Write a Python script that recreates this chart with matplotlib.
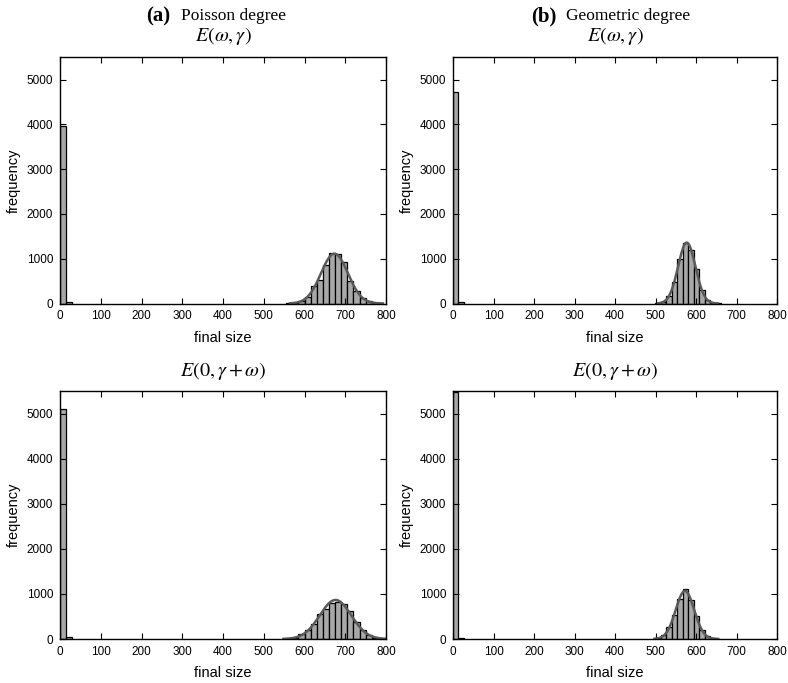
import numpy as np
import matplotlib
matplotlib.use('Agg')
import matplotlib.pyplot as plt

plt.rcParams['font.family'] = ['Liberation Sans', 'DejaVu Sans']
plt.rcParams['mathtext.fontset'] = 'stix'

# bin widths (final size units)
bin_a = 15.0   # Poisson degree
bin_b = 13.5   # Geometric degree

# counts of the first two bins (minor outbreaks)
a_top_low = [3970, 40]
a_bot_low = [5100, 50]
b_top_low = [4720, 30]
b_bot_low = [5480, 20]

# counts of the major outbreak hump, starting at the given bin edge
a_top_start = 555
a_top_peak = [8, 20, 60, 145, 385, 530, 870, 1125, 1095, 935, 505, 275, 120, 50, 15]
a_bot_start = 555
a_bot_peak = [10, 30, 100, 210, 330, 545, 660, 790, 830, 770, 610, 380, 200, 90, 30, 10]
b_top_start = 499.5
b_top_peak = [5, 40, 170, 490, 1000, 1350, 1190, 770, 300, 80, 15, 3]
b_bot_start = 499.5
b_bot_peak = [15, 80, 260, 533, 880, 1105, 870, 510, 200, 60, 12]

xticks = [0, 100, 200, 300, 400, 500, 600, 700, 800]
yticks = [0, 1000, 2000, 3000, 4000, 5000]

fig = plt.figure(figsize=(7.88, 6.83), dpi=100)

W, H = 788.0, 683.0
def axes_px(x0, y0, x1, y1):
    return fig.add_axes([x0 / W, 1 - y1 / H, (x1 - x0) / W, (y1 - y0) / H])

def panel(ax, width, low, start, peak):
    nb = int(round(800 / width)) + 1
    counts = np.zeros(nb)
    counts[0:len(low)] = low
    k0 = int(round(start / width))
    counts[k0:k0 + len(peak)] = peak
    edges = np.arange(nb) * width
    nz = counts > 0
    ax.bar(edges[nz], counts[nz], width=width, align='edge',
           color='#a8a8a8', edgecolor='black', linewidth=0.9)
    # normal curve fitted to the major outbreak hump
    centers = start + width * (np.arange(len(peak)) + 0.5)
    pk = np.array(peak, dtype=float)
    n = pk.sum()
    mu = (centers * pk).sum() / n
    sd = np.sqrt(((centers - mu) ** 2 * pk).sum() / n)
    xs = np.linspace(mu - 3.3 * sd, min(800, mu + 3.6 * sd), 300)
    ys = n * width / (sd * np.sqrt(2 * np.pi)) * np.exp(-0.5 * ((xs - mu) / sd) ** 2)
    ax.plot(xs, ys, color='#5a5a5a', linewidth=1.8)
    ax.set_xlim(0, 800)
    ax.set_ylim(0, 5500)
    ax.set_xticks(xticks)
    ax.set_yticks(yticks)
    ax.tick_params(direction='in', length=4, width=0.8, top=True, right=True,
                   labelsize=8.5, pad=5)
    for s in ax.spines.values():
        s.set_linewidth(1.0)
    ax.set_xlabel('final size', fontsize=10.5, labelpad=6)
    ax.set_ylabel('frequency', fontsize=10.5, labelpad=4)

ax1 = axes_px(60, 57.3, 386, 303.5)
ax2 = axes_px(453, 57.3, 777, 303.5)
ax3 = axes_px(60, 391, 386, 639)
ax4 = axes_px(453, 391, 777, 639)

panel(ax1, bin_a, a_top_low, a_top_start, a_top_peak)
panel(ax2, bin_b, b_top_low, b_top_start, b_top_peak)
panel(ax3, bin_a, a_bot_low, a_bot_start, a_bot_peak)
panel(ax4, bin_b, b_bot_low, b_bot_start, b_bot_peak)

serif = ['Liberation Serif', 'DejaVu Serif']
fig.text(170 / W, 1 - 16.5 / H, '(a)', family=serif, fontweight='bold',
         fontsize=15, ha='right', va='center')
fig.text(181 / W, 1 - 16.5 / H, 'Poisson degree', family=serif,
         fontsize=12.5, ha='left', va='center')
fig.text(556.7 / W, 1 - 16.5 / H, '(b)', family=serif, fontweight='bold',
         fontsize=15, ha='right', va='center')
fig.text(566 / W, 1 - 16.5 / H, 'Geometric degree', family=serif,
         fontsize=12.5, ha='left', va='center')

for cx in (223, 615):
    fig.text(cx / W, 1 - 36 / H, r'$E(\omega,\gamma)$', fontsize=14.5,
             ha='center', va='center')
    fig.text(cx / W, 1 - 371 / H, r'$E(0,\gamma+\omega)$', fontsize=14.5,
             ha='center', va='center')

fig.savefig('out.png', dpi=100)
